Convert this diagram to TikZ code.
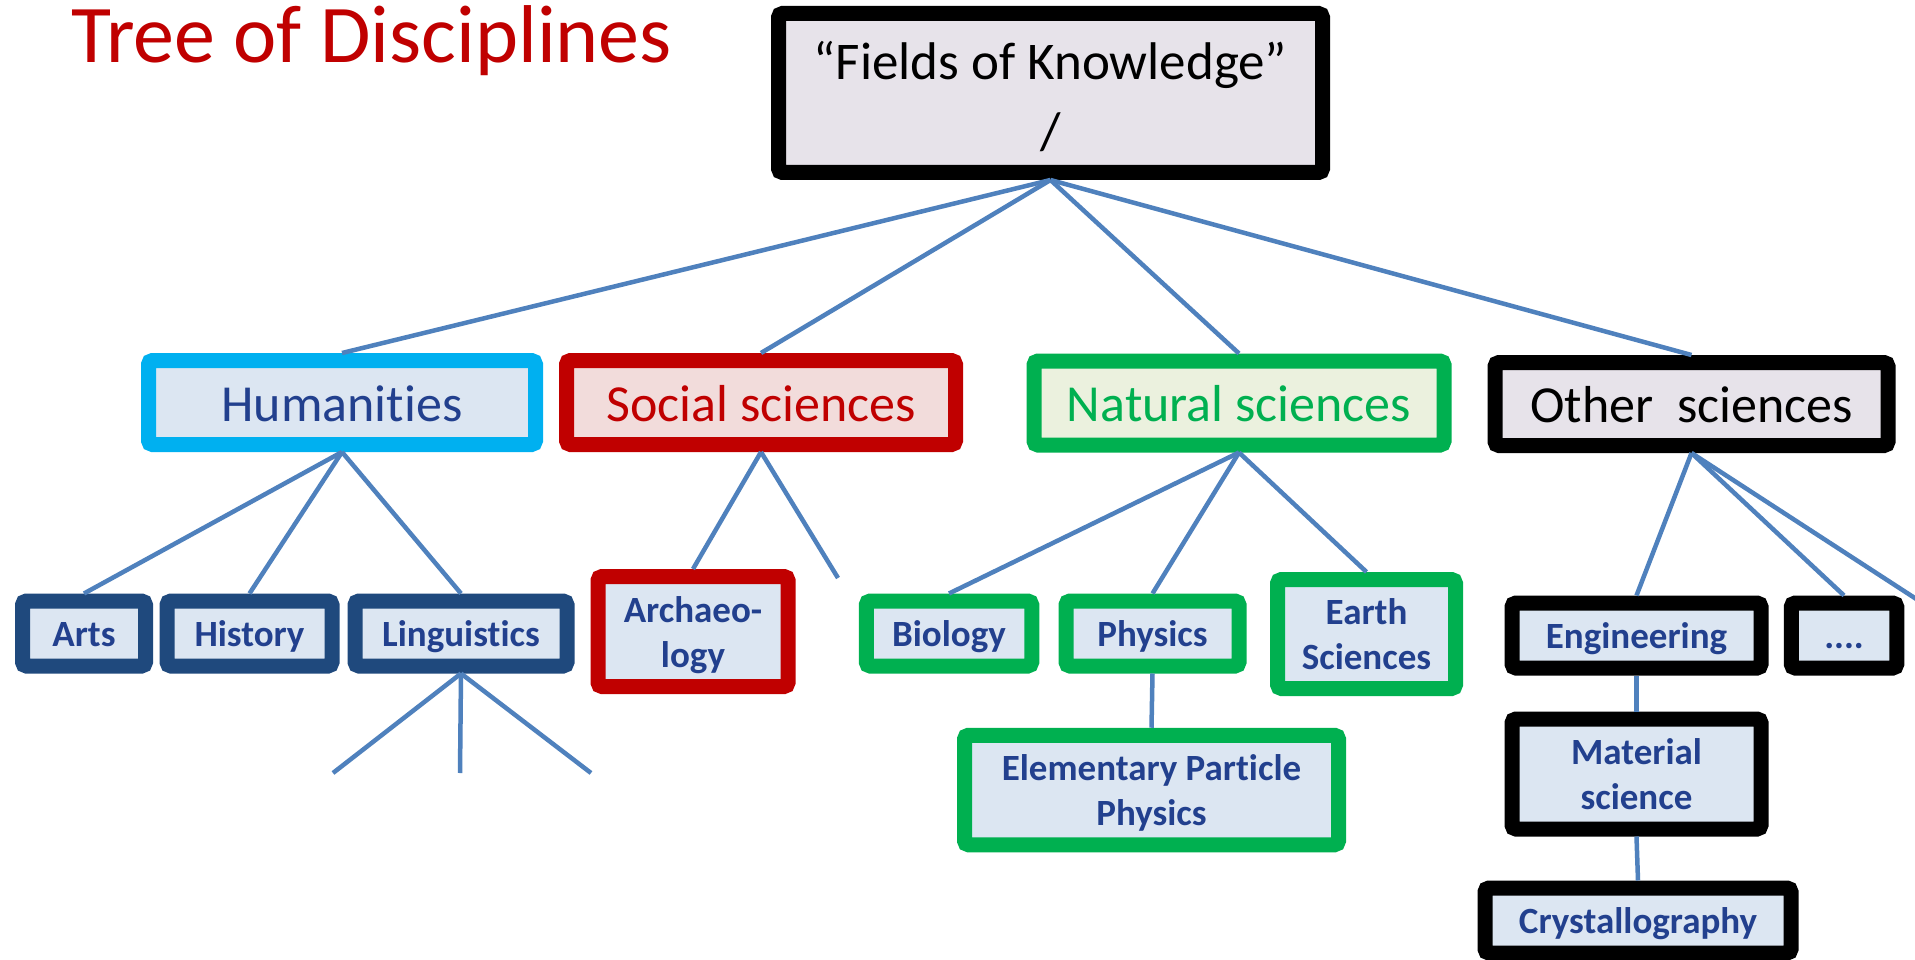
\documentclass[tikz,border=0pt]{standalone}
\usepackage{fontspec}
\setmainfont{Carlito}[Ligatures=CommonOff]
\definecolor{titlered}{HTML}{C00000}
\definecolor{linkblue}{HTML}{4F81BD}
\definecolor{humcyan}{HTML}{00B0F0}
\definecolor{socred}{HTML}{C00000}
\definecolor{natgreen}{HTML}{00B050}
\definecolor{navy}{HTML}{1F497D}
\definecolor{txtblue}{HTML}{22408E}
\definecolor{lightblue}{HTML}{DCE6F2}
\definecolor{lightred}{HTML}{F2DCDB}
\definecolor{lightgreen}{HTML}{EBF1DE}
\definecolor{lavender}{HTML}{E7E3EA}
\tikzset{
  box/.style={draw, line width=15pt, rounded corners=4pt, inner sep=0pt, align=center},
  lvlone/.style={box, text height=37pt, text depth=0pt, font=\fontsize{52}{63}\selectfont},
  lvltwo/.style={box, fill=lightblue, text=txtblue, text depth=0pt, font=\fontsize{37}{45}\selectfont\bfseries},
  oneline/.style={lvltwo, text height=26pt, minimum height=65pt},
  twoline/.style={lvltwo, text height=71pt},
  link/.style={draw=linkblue, line width=4.5pt}
}
\begin{document}
\begin{tikzpicture}[x=1pt,y=-1pt]
\useasboundingbox (0,0) rectangle (1915,960);
\clip (0,0) rectangle (1915,960);
\fill[white] (0,0) rectangle (1915,960);

\node[anchor=base west, text=titlered, inner sep=0pt, font=\fontsize{82}{98}\selectfont] (title) at (71,63) {Tree of Disciplines};

\node[box, draw=black, fill=lavender, minimum width=544pt, minimum height=159pt,
      text height=113pt, text depth=0pt,
      font=\fontsize{53}{70}\selectfont] (top) at (1050.5,93) {“Fields of Knowledge”\\/};

\node[lvlone, draw=humcyan, fill=lightblue, text=txtblue, minimum width=387pt, minimum height=84pt] (hum) at (342,402.5) {Humanities};
\node[lvlone, draw=socred, fill=lightred, text=socred, minimum width=389pt, minimum height=84pt] (soc) at (761,402.5) {Social sciences};
\node[lvlone, draw=natgreen, fill=lightgreen, text=natgreen, minimum width=410pt, minimum height=84pt] (nat) at (1239,403) {Natural sciences};
\node[lvlone, draw=black, fill=lavender, text=black, minimum width=393pt, minimum height=83pt] (oth) at (1691.5,404) {Other\ \ sciences};

\node[oneline, draw=navy, minimum width=123pt] (arts) at (84,633.5) {Arts};
\node[oneline, draw=navy, minimum width=165pt] (hist) at (249.5,633.5) {History};
\node[oneline, draw=navy, minimum width=212pt] (ling) at (461,633.5) {Linguistics};
\node[twoline, draw=socred, minimum width=190pt, minimum height=110pt] (arch) at (693,631.5) {Archaeo-\\logy};
\node[oneline, draw=natgreen, minimum width=165.5pt] (bio) at (949,633.5) {Biology};
\node[oneline, draw=natgreen, minimum width=173pt] (phys) at (1152.5,633.5) {Physics};
\node[twoline, draw=natgreen, minimum width=178pt, minimum height=109pt] (earth) at (1366.5,634) {Earth\\Sciences};
\node[twoline, draw=natgreen, minimum width=374pt, minimum height=109.5pt] (ep) at (1151.5,790) {Elementary Particle\\Physics};
\node[oneline, draw=black, minimum width=249pt] (eng) at (1636.5,635.5) {Engineering};
\node[oneline, draw=black, minimum width=105.5pt] (dots) at (1844,635.5) {....};
\node[twoline, draw=black, minimum width=249pt, minimum height=110pt] (mat) at (1636.5,774) {Material\\science};
\node[oneline, draw=black, minimum width=306pt] (crys) at (1638,920.5) {Crystallography};

\coordinate (socend) at (838,578);
\coordinate (lg1) at (333,773);
\coordinate (lg2) at (460,773);
\coordinate (lg3) at (591,773);
\coordinate (othend) at (1944,617);

\draw[link] (top.south) -- (hum.north);
\draw[link] (top.south) -- (soc.north);
\draw[link] (top.south) -- (nat.north);
\draw[link] (top.south) -- (oth.north);

\draw[link] (hum.south) -- (arts.north);
\draw[link] (hum.south) -- (hist.north);
\draw[link] (hum.south) -- (ling.north);
\draw[link] (ling.south) -- (lg1);
\draw[link] (ling.south) -- (lg2);
\draw[link] (ling.south) -- (lg3);

\draw[link] (soc.south) -- (arch.north);
\draw[link] (soc.south) -- (socend);

\draw[link] (nat.south) -- (bio.north);
\draw[link] (nat.south) -- (phys.north);
\draw[link] (nat.south) -- (earth.north);
\draw[link] (phys.south) -- (ep.north);

\draw[link] (oth.south) -- (eng.north);
\draw[link] (oth.south) -- (dots.north);
\draw[link] (oth.south) -- (othend);
\draw[link] (eng.south) -- (mat.north);
\draw[link] (mat.south) -- (crys.north);
\end{tikzpicture}
\end{document}
